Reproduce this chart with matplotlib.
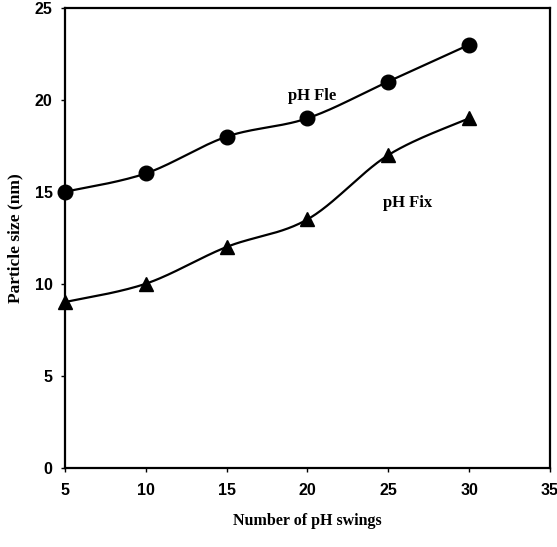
import matplotlib
matplotlib.use("Agg")
import matplotlib.pyplot as plt
import numpy as np

swings = [5, 10, 15, 20, 25, 30]
ph_fle = [15, 16, 18, 19, 21, 23]
ph_fix = [9, 10, 12, 13.5, 17, 19]


def smooth(xs, ys, n=30):
    """Excel-style smoothed line (Catmull-Rom as cubic Bezier)"""
    x = np.asarray(xs, float)
    y = np.asarray(ys, float)
    px = np.concatenate([[x[0]], x, [x[-1]]])
    py = np.concatenate([[y[0]], y, [y[-1]]])
    out_x, out_y = [], []
    t = np.linspace(0, 1, n)
    for i in range(1, len(px) - 2):
        p0 = np.array([px[i], py[i]])
        p3 = np.array([px[i + 1], py[i + 1]])
        c1 = p0 + (np.array([px[i + 1], py[i + 1]]) - np.array([px[i - 1], py[i - 1]])) / 6
        c2 = p3 - (np.array([px[i + 2], py[i + 2]]) - np.array([px[i], py[i]])) / 6
        b = ((1 - t) ** 3)[:, None] * p0 + (3 * (1 - t) ** 2 * t)[:, None] * c1 \
            + (3 * (1 - t) * t ** 2)[:, None] * c2 + (t ** 3)[:, None] * p3
        out_x.extend(b[:, 0])
        out_y.extend(b[:, 1])
    return out_x, out_y


fig = plt.figure(figsize=(5.57, 5.47), dpi=100)
ax = fig.add_axes([0.1167, 0.1453, 0.8707, 0.8401])

for vals, mk in [(ph_fle, 'o'), (ph_fix, '^')]:
    sx, sy = smooth(swings, vals)
    ax.plot(sx, sy, color='black', linewidth=1.6, zorder=2)
    ax.plot(swings, vals, linestyle='none', marker=mk, markersize=10.5,
            color='black', zorder=3, clip_on=False)

ax.set_xlim(5, 35)
ax.set_ylim(0, 25)
ax.set_xticks(range(5, 36, 5))
ax.set_yticks(range(0, 26, 5))
for s in ax.spines.values():
    s.set_linewidth(1.6)
ax.tick_params(direction='out', length=3, width=1, pad=8)
ax.tick_params(axis='y', pad=6)
for lab in ax.get_xticklabels() + ax.get_yticklabels():
    lab.set_fontfamily('Liberation Sans')
    lab.set_fontweight('bold')
    lab.set_fontsize(11.5)

serif = {'family': 'Liberation Serif', 'weight': 'bold', 'size': 11.5}
ax.set_xlabel("Number of pH swings", fontdict=serif, labelpad=11)
ax.set_ylabel("Particle size (nm)", fontdict=dict(serif, size=12.5), labelpad=8)

ax.text(20.3, 20.2, "pH Fle", fontdict=dict(serif, size=12), ha='center', va='center')
ax.text(26.2, 14.4, "pH Fix", fontdict=dict(serif, size=12), ha='center', va='center')

fig.savefig("out.png", dpi=100)
